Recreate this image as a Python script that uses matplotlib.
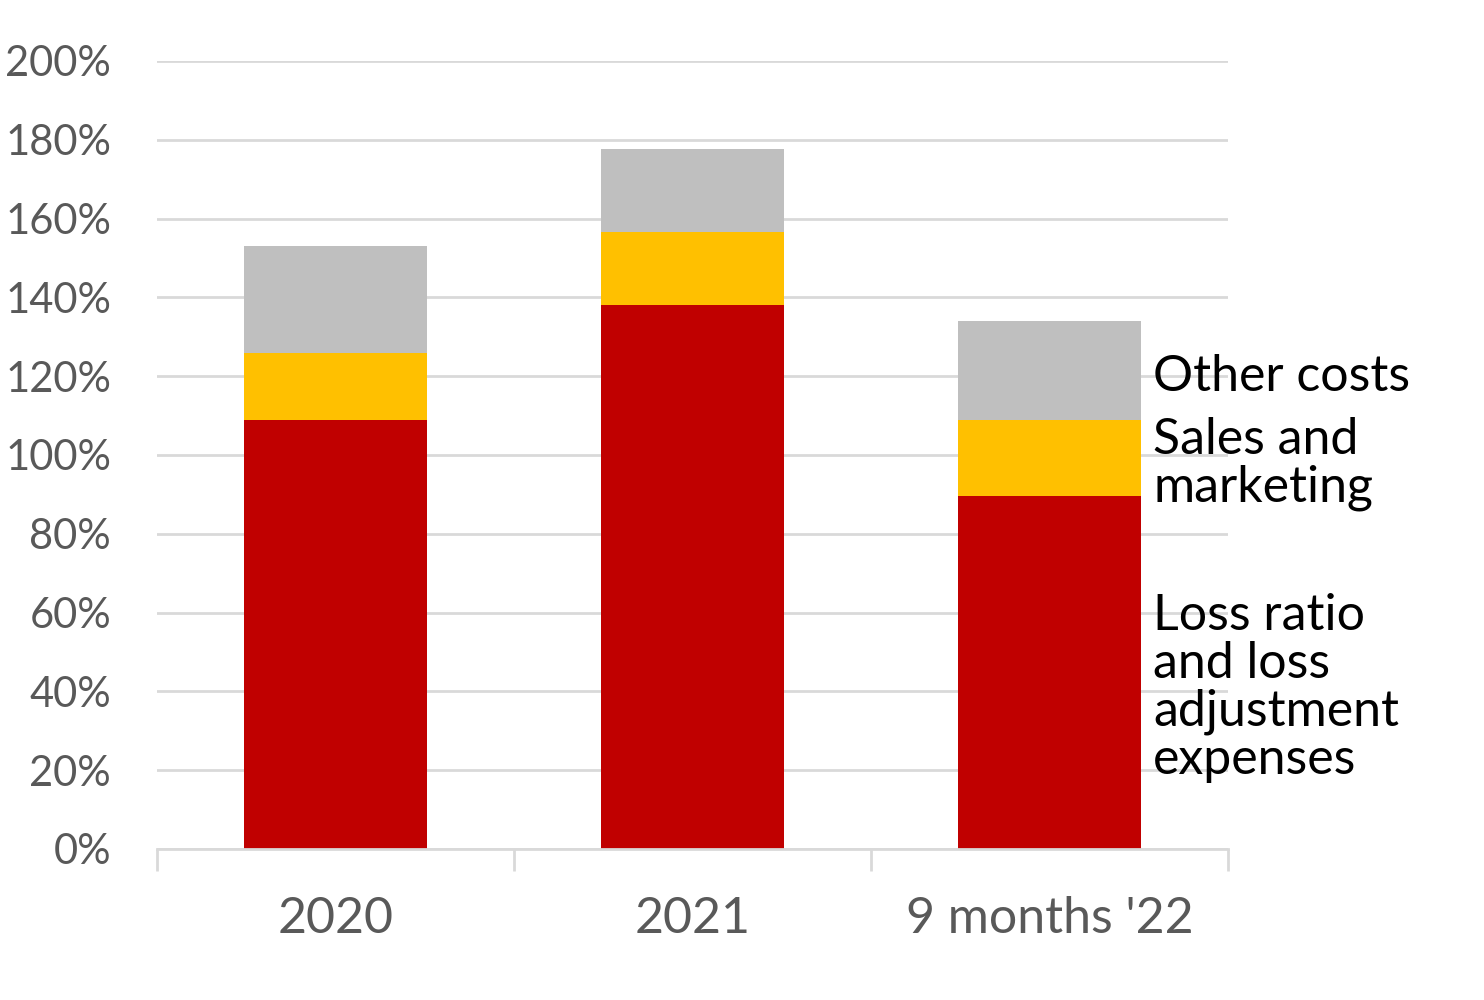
import matplotlib.pyplot as plt
import numpy as np

# Combined ratio breakdown, percent of premiums
categories = ["2020", "2021", "9 months '22"]
loss_ratio = [109, 138, 89.6]
sales_marketing = [17, 18.6, 19.3]
other_costs = [27, 21, 25]
series_labels = ["Loss ratio\nand loss\nadjustment\nexpenses", "Sales and\nmarketing", "Other costs"]
y_ticks = list(range(0, 201, 20))

colors = ["#c00000", "#ffc000", "#bfbfbf"]

plt.rcParams["font.family"] = ["Lato", "DejaVu Sans"]

fig = plt.figure(figsize=(14.84, 10), dpi=100)
ax = fig.add_axes([0.1058, 0.151, 0.7217, 0.788])

x = np.arange(len(categories))
width = 0.51
bottom = np.zeros(len(categories))
segments = [loss_ratio, sales_marketing, other_costs]
for vals, col in zip(segments, colors):
    ax.bar(x, vals, width, bottom=bottom, color=col, zorder=3)
    bottom += np.array(vals)

# series labels next to the last bar, roughly centred on each segment
nudges = [-4, -1.5, -1.5]
base = 0
for vals, label, nudge in zip(segments, series_labels, nudges):
    mid = base + vals[-1] / 2
    ax.text(x[-1] + width / 2 + 0.035, mid + nudge, label, fontsize=36, color="black",
            va="center", ha="left", linespacing=1.05, zorder=4)
    base += vals[-1]

ax.set_xlim(-0.5, len(categories) - 0.5)
ax.set_ylim(0, 200)
ax.set_yticks(y_ticks)
ax.set_yticklabels([f"{t}%" for t in y_ticks])
ax.yaxis.grid(True, color="#d9d9d9", linewidth=2, zorder=0)
ax.tick_params(axis="y", length=0, labelsize=30, labelcolor="#595959", pad=33)

# category labels and separator ticks
ax.set_xticks(x)
ax.set_xticklabels(categories)
ax.tick_params(axis="x", length=0, labelsize=36, labelcolor="#595959", pad=34)
ax.set_xticks(np.arange(-0.5, len(categories), 1.0), minor=True)
ax.tick_params(axis="x", which="minor", length=16, width=2, color="#d9d9d9")

for side in ["top", "right", "left"]:
    ax.spines[side].set_visible(False)
ax.spines["bottom"].set_color("#d9d9d9")
ax.spines["bottom"].set_linewidth(2)
ax.spines["bottom"].set_zorder(4)

fig.savefig("out.png", dpi=100)
